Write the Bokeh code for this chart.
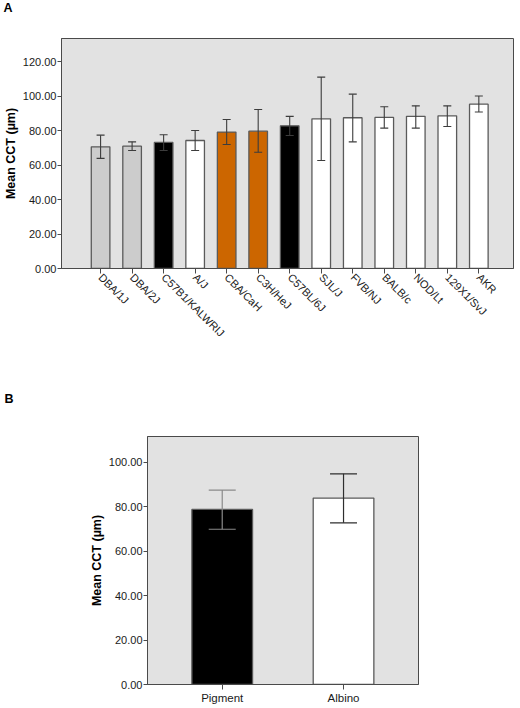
import numpy as np
from bokeh.plotting import figure
from bokeh.models import (ColumnDataSource, Whisker, TeeHead, FixedTicker,
                          NumeralTickFormatter, Range1d, LinearAxis)
from bokeh.embed import file_html
from bokeh.resources import INLINE

# ---------------- data ----------------
strains = ["DBA/1J", "DBA/2J", "C57B1/KALWRIJ", "A/J", "CBA/CaH", "C3H/HeJ",
           "C57BL/6J", "SJL/J", "FVB/NJ", "BALB/c", "NOD/Lt", "129X1/SvJ", "AKR"]
strain_mean = [70.6, 71.0, 73.2, 74.3, 79.2, 79.7, 82.8, 86.9, 87.5, 87.7, 88.3, 88.6, 95.4]
strain_upper = [77.4, 73.5, 77.6, 80.1, 86.5, 92.3, 88.3, 111.1, 101.2, 93.9, 94.4, 94.4, 100.1]
strain_lower = [63.9, 68.5, 68.5, 68.5, 72.0, 67.5, 77.2, 62.7, 73.5, 81.5, 81.5, 82.4, 90.8]
strain_group = ["grey", "grey", "black", "white", "orange", "orange", "black",
                "white", "white", "white", "white", "white", "white"]

groups = ["Pigment", "Albino"]
group_mean = [78.7, 83.8]
group_upper = [87.4, 94.7]
group_lower = [69.8, 72.7]
group_color = ["black", "white"]

ticks_a = [0, 20, 40, 60, 80, 100, 120]
ticks_b = [0, 20, 40, 60, 80, 100]

# ---------------- styles ----------------
palette = {"grey": "#cccccc", "black": "#000000", "white": "#ffffff", "orange": "#cc6600"}
FONT = "Liberation Sans"
BG = "#e2e2e2"
FRAME = "#4a4a4a"
BAR_LINE = "#5a5a5a"
ERR = "#3c3c3c"
ERR_B = ["#8a8a8a", "#2e2e2e"]


def style(p, yticks, panel_letter, left, lift):
    p.background_fill_color = BG
    p.border_fill_color = "white"
    p.outline_line_color = FRAME
    p.outline_line_width = 1
    p.grid.visible = False
    p.yaxis.ticker = FixedTicker(ticks=yticks)
    p.yaxis.formatter = NumeralTickFormatter(format="0.00")
    p.yaxis.axis_label = "Mean CCT (µm)"
    p.yaxis.axis_label_text_font = FONT
    p.yaxis.axis_label_text_font_style = "bold"
    p.yaxis.axis_label_text_font_size = "12.5px"
    p.yaxis.axis_label_text_color = "black"
    p.yaxis.axis_label_standoff = 2
    for ax in (p.below[0], p.left[0]):
        ax.axis_line_color = FRAME
        ax.major_tick_line_color = FRAME
        ax.minor_tick_line_color = None
        ax.major_tick_in = 0
        ax.major_tick_out = 4
        ax.major_label_text_font = FONT
        ax.major_label_text_font_size = "11px"
        ax.major_label_text_color = "#1a1a1a"
    p.left[0].major_label_standoff = 1
    # empty spacer axis above the frame, to lift the panel letter
    spacer = LinearAxis(ticker=FixedTicker(ticks=[]), axis_line_color=None,
                        major_tick_in=0, major_tick_out=0, minor_tick_in=0, minor_tick_out=0,
                        major_label_standoff=0, major_tick_line_color=None,
                        minor_tick_line_color=None,
                        axis_label=" ", axis_label_text_font_size="10px",
                        axis_label_text_color=None, axis_label_standoff=lift - 11)
    p.add_layout(spacer, "above")
    p.title.text = panel_letter
    p.title.align = "left"
    p.title.offset = -left
    p.title.vertical_align = "top"
    p.title.standoff = 0
    p.title.text_font = FONT
    p.title.text_font_style = "bold"
    p.title.text_font_size = "12.5px"
    p.title.text_color = "black"


# ---------------- panel A ----------------
xa = list(range(len(strains)))
src_a = ColumnDataSource(dict(x=xa, top=strain_mean, upper=strain_upper, lower=strain_lower,
                              color=[palette[g] for g in strain_group]))
pa = figure(width=520, height=380, x_range=Range1d(-1.24, 13.1), y_range=Range1d(0, 133.5),
            output_backend="svg", toolbar_location=None,
            min_border_left=61, min_border_right=7, min_border_top=38, min_border_bottom=112)
pa.vbar(x="x", top="top", bottom=0, width=0.59, source=src_a, fill_color="color",
        line_color=BAR_LINE, line_width=1.3)
wa = Whisker(base="x", upper="upper", lower="lower", source=src_a, line_color=ERR, line_width=1.1,
             level="overlay",
             upper_head=TeeHead(size=8, line_color=ERR, line_width=1.1),
             lower_head=TeeHead(size=8, line_color=ERR, line_width=1.1))
pa.add_layout(wa)
style(pa, ticks_a, "A", 58, 19)
xa_axis = pa.below[0]
xa_axis.ticker = FixedTicker(ticks=xa)
xa_axis.major_label_overrides = {i: s for i, s in zip(xa, strains)}
xa_axis.major_label_orientation = -np.pi / 4
xa_axis.major_tick_out = 5
xa_axis.major_label_standoff = 2

# ---------------- panel B ----------------
xb = [0, 1]
src_b = ColumnDataSource(dict(x=xb, top=group_mean, upper=group_upper, lower=group_lower,
                              color=[palette[c] for c in group_color], err=ERR_B))
pb = figure(width=520, height=328, x_range=Range1d(-0.616, 1.618), y_range=Range1d(0, 111.5),
            output_backend="svg", toolbar_location=None,
            min_border_left=147, min_border_right=102, min_border_top=56, min_border_bottom=24)
pb.vbar(x="x", top="top", bottom=0, width=0.5, source=src_b, fill_color="color",
        line_color=BAR_LINE, line_width=1.3)
wb = Whisker(base="x", upper="upper", lower="lower", source=src_b, line_color="err", line_width=1.2,
             level="overlay",
             upper_head=TeeHead(size=27, line_color="err", line_width=1.2),
             lower_head=TeeHead(size=27, line_color="err", line_width=1.2))
pb.add_layout(wb)
style(pb, ticks_b, "B", 143, 26)
xb_axis = pb.below[0]
xb_axis.ticker = FixedTicker(ticks=xb)
xb_axis.major_label_overrides = {i: s for i, s in zip(xb, groups)}
xb_axis.major_tick_out = 5
xb_axis.major_label_standoff = 2
xb_axis.major_label_text_font_size = "11.5px"

open("out.html", "w").write(file_html([pa, pb], INLINE))
